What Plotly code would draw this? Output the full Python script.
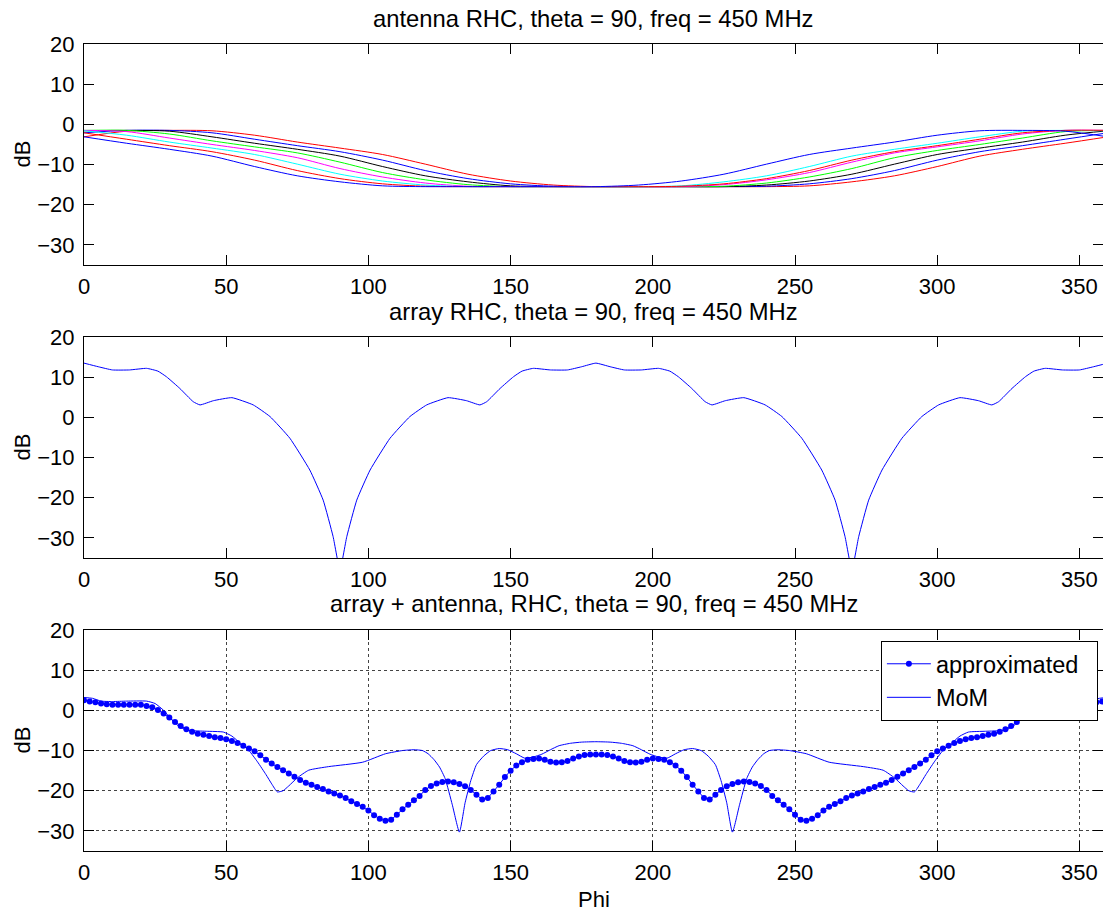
import plotly.graph_objects as go

# top panel: antenna patterns, phi sampled every 15 deg
phi_ant = list(range(0, 361, 15))
ant_red1 = [-3.1, -1.7, -1.5, -1.6, -2.7, -4.4, -5.9, -7.5, -9.9, -12.4, -14.1, -15.1, -15.5,
            -15.5, -15.5, -15.5, -15.5, -15.3, -14.3, -12.8, -10.5, -7.9, -6.2, -4.7, -3.1]
ant_blue1 = [-2.1, -1.5, -1.5, -2.1, -3.7, -5.3, -6.8, -8.9, -11.5, -13.5, -14.8, -15.4, -15.5,
             -15.5, -15.5, -15.5, -15.4, -14.8, -13.5, -11.5, -8.9, -6.8, -5.3, -3.7, -2.1]
ant_black = [-1.6, -1.5, -1.7, -3.1, -4.7, -6.2, -7.9, -10.5, -12.8, -14.3, -15.3, -15.5, -15.5,
             -15.5, -15.5, -15.5, -15.1, -14.1, -12.4, -9.9, -7.5, -5.9, -4.4, -2.7, -1.6]
ant_green = [-1.5, -1.5, -2.4, -4.1, -5.6, -7.1, -9.4, -12.0, -13.8, -15.0, -15.5, -15.5, -15.5,
             -15.5, -15.5, -15.4, -14.6, -13.1, -11.0, -8.3, -6.5, -5.0, -3.4, -1.8, -1.5]
ant_magenta = [-1.5, -1.8, -3.4, -5.0, -6.5, -8.3, -11.0, -13.1, -14.6, -15.4, -15.5, -15.5, -15.5,
               -15.5, -15.5, -15.0, -13.8, -12.0, -9.4, -7.1, -5.6, -4.1, -2.4, -1.5, -1.5]
ant_cyan = [-1.6, -2.7, -4.4, -5.9, -7.5, -9.9, -12.4, -14.1, -15.1, -15.5, -15.5, -15.5, -15.5,
            -15.5, -15.3, -14.3, -12.8, -10.5, -7.9, -6.2, -4.7, -3.1, -1.7, -1.5, -1.6]
ant_red2 = [-2.1, -3.7, -5.3, -6.8, -8.9, -11.5, -13.5, -14.8, -15.4, -15.5, -15.5, -15.5, -15.5,
            -15.5, -15.4, -14.8, -13.5, -11.5, -8.9, -6.8, -5.3, -3.7, -2.1, -1.5, -1.5]
ant_blue2 = [-3.1, -4.7, -6.2, -7.9, -10.5, -12.8, -14.3, -15.3, -15.5, -15.5, -15.5, -15.5, -15.5,
             -15.1, -14.1, -12.4, -9.9, -7.5, -5.9, -4.4, -2.7, -1.6, -1.5, -1.7, -3.1]

# middle panel: array factor
phi_arr = [0, 5, 10, 16, 22, 26, 29, 33.7, 38.4, 40.8, 45.5, 52, 59.5, 65.4, 72.4, 79.4, 84.1, 87.6,
           90, 92.4, 95.9, 100.6, 107.6, 114.6, 120.5, 128, 134.5, 139.2, 141.6, 146.3, 151, 154, 158,
           164, 170, 175, 180, 185, 190, 196, 202, 206, 209, 213.7, 218.4, 220.8, 225.5, 232, 239.5,
           245.4, 252.4, 259.4, 264.1, 267.6, 270, 272.4, 275.9, 280.6, 287.6, 294.6, 300.5, 308,
           314.5, 319.2, 321.6, 326.3, 331, 334, 338, 344, 350, 355, 360]
arr_db = [13.5, 12.6, 11.8, 11.8, 12.2, 11.5, 10.1, 7.2, 3.9, 3.1, 4.15, 4.9, 3.1, 0.2, -5.2, -13.1,
          -20.6, -29.7, -38, -29.7, -20.6, -13.1, -5.2, 0.2, 3.1, 4.9, 4.15, 3.1, 3.9, 7.2, 10.1, 11.5,
          12.2, 11.8, 11.8, 12.6, 13.5, 12.6, 11.8, 11.8, 12.2, 11.5, 10.1, 7.2, 3.9, 3.1, 4.15, 4.9,
          3.1, 0.2, -5.2, -13.1, -20.6, -29.7, -38, -29.7, -20.6, -13.1, -5.2, 0.2, 3.1, 4.9, 4.15,
          3.1, 3.9, 7.2, 10.1, 11.5, 12.2, 11.8, 11.8, 12.6, 13.5]

# bottom panel: array + antenna
phi_approx = list(range(0, 361, 2))
approx_db = [2.5, 2.2, 2.0, 1.7, 1.5, 1.4, 1.4, 1.4, 1.4, 1.4, 1.4,
             1.1, 0.8, 0.1, -0.8, -1.8, -2.9, -3.9, -4.7, -5.3, -5.8,
             -6.1, -6.4, -6.7, -6.9, -7.2, -7.6, -8.1, -8.8, -9.5, -10.2,
             -11.2, -12.3, -13.2, -14.1, -14.9, -15.7, -16.5, -17.3, -18.0, -18.5,
             -19.1, -19.6, -20.2, -20.7, -21.2, -21.8, -22.6, -23.3, -24.0, -24.9,
             -26.1, -27.0, -27.5, -27.2, -26.0, -24.6, -23.5, -22.4, -21.3, -19.8,
             -18.8, -18.2, -17.8, -17.7, -17.9, -18.3, -18.9, -19.8, -21.0, -22.2,
             -21.8, -20.2, -18.5, -16.6, -15.0, -13.7, -12.9, -12.3, -12.1, -12.0,
             -12.3, -12.8, -13.0, -12.9, -12.6, -12.0, -11.5, -11.1, -11.0, -11.0,
             -11.0, -11.1, -11.5, -12.0, -12.6, -12.9, -13.0, -12.8, -12.3,
             -12.0, -12.1, -12.3, -12.9, -13.7, -15.0, -16.6, -18.5, -20.2, -21.8,
             -22.2, -21.0, -19.8, -18.9, -18.3, -17.9, -17.7, -17.8, -18.2, -18.8,
             -19.8, -21.3, -22.4, -23.5, -24.6, -26.0, -27.2, -27.5, -27.0, -26.1,
             -24.9, -24.0, -23.3, -22.6, -21.8, -21.2, -20.7, -20.2, -19.6, -19.1,
             -18.5, -18.0, -17.3, -16.5, -15.7, -14.9, -14.1, -13.2, -12.3, -11.2,
             -10.2, -9.5, -8.8, -8.1, -7.6, -7.2, -6.9, -6.7, -6.4, -6.1,
             -5.8, -5.3, -4.7, -3.9, -2.9, -1.8, -0.8, 0.1, 0.8, 1.1,
             1.4, 1.4, 1.4, 1.4, 1.4, 1.4, 1.5, 1.7, 2.0, 2.2, 2.5]

phi_mom = [0, 3, 6, 10, 15, 22, 25, 28, 31, 34, 37, 43, 49, 52, 55, 58, 61, 64, 66, 68,
           70, 72, 75, 79, 86, 98, 106, 112, 116, 119, 121, 123, 125, 127, 129.5, 132, 134, 136, 138, 140.5,
           143, 146, 149, 152, 155, 158, 161, 164, 167, 171, 175, 180,
           185, 189, 193, 196, 199, 202, 205, 208, 211, 214, 217, 219.5, 222, 224, 226, 228, 230.5,
           233, 235, 237, 239, 241, 244, 248, 254, 262, 274, 281, 285, 288, 290, 292, 294, 296, 299,
           302, 305, 308, 311, 317, 323, 326, 329, 332, 335, 338, 345, 350, 354, 357, 360]
mom_db = [3.2, 3.0, 2.3, 2.2, 2.3, 2.3, 1.7, 0.0, -2.5, -4.3, -5.0, -5.2, -5.4, -6.4, -8.2, -10.0, -12.8,
          -16.0, -18.3, -20.3, -20.0, -18.8, -16.8, -14.9, -14.0, -12.9, -10.8, -10.0, -9.8, -10.0, -10.8,
          -12.2, -14.1, -17.0, -23.5, -30.3, -23.0, -17.5, -13.5, -11.4, -10.0, -9.5, -9.8, -10.8, -11.9,
          -11.6, -10.9, -9.8, -8.8, -8.2, -7.9, -7.8,
          -7.9, -8.2, -8.8, -9.8, -10.9, -11.6, -11.9, -10.8, -9.8, -9.5, -10.0, -11.4, -13.5, -17.5,
          -23.0, -30.3, -23.5, -17.0, -14.1, -12.2, -10.8, -10.0, -9.8, -10.0, -10.8, -12.9, -14.0, -14.9,
          -16.8, -18.8, -20.0, -20.3, -18.3, -16.0, -12.8, -10.0, -8.2, -6.4, -5.4, -5.2, -5.0, -4.3,
          -2.5, 0.0, 1.7, 2.3, 2.3, 2.2, 2.3, 3.0, 3.2]

titles = ["antenna RHC, theta = 90, freq = 450 MHz",
          "array RHC, theta = 90, freq = 450 MHz",
          "array + antenna, RHC, theta = 90, freq = 450 MHz"]
x_ticks = list(range(0, 351, 50))
y_ticks = [-30, -20, -10, 0, 10, 20]

FONT = "Liberation Sans, Arial, sans-serif"
W, H = 1103, 914

fig = go.Figure()

ant_lines = [(ant_red1, "red"), (ant_blue1, "blue"), (ant_black, "black"), (ant_green, "#00ff00"),
             (ant_magenta, "magenta"), (ant_cyan, "cyan"), (ant_red2, "red"), (ant_blue2, "blue")]
for vals, col in ant_lines:
    fig.add_trace(go.Scatter(x=phi_ant, y=vals, mode="lines", showlegend=False,
                             line=dict(color=col, width=1, shape="spline", smoothing=0.8),
                             xaxis="x", yaxis="y"))

fig.add_trace(go.Scatter(x=phi_arr, y=arr_db, mode="lines", showlegend=False,
                         line=dict(color="blue", width=1, shape="spline", smoothing=0.4),
                         xaxis="x2", yaxis="y2"))

# trailing nbsp widen the legend box a bit, like the matlab one
fig.add_trace(go.Scatter(x=phi_approx, y=approx_db, mode="lines+markers",
                         name="approximated\u00a0\u00a0",
                         line=dict(color="blue", width=1), marker=dict(color="blue", size=6),
                         xaxis="x3", yaxis="y3"))
fig.add_trace(go.Scatter(x=phi_mom, y=mom_db, mode="lines", name="MoM",
                         line=dict(color="blue", width=1, shape="spline", smoothing=0.5),
                         xaxis="x3", yaxis="y3"))

# plot area pixel boxes (top, bottom) for the three panels
boxes = [(44, 265), (337, 558), (630, 851)]
title_y = [18, 311, 603]

def xax(anchor, grid):
    return dict(domain=[0, 1], range=[0, 358.3], anchor=anchor, tickvals=x_ticks,
                ticks="inside", ticklen=10, tickcolor="black", showline=True, linecolor="black",
                linewidth=1, mirror="ticks", zeroline=False, showgrid=grid,
                gridcolor="#444", griddash="dot", gridwidth=1, automargin=False,
                tickfont=dict(size=22, color="black"), ticklabelstandoff=2)

def yax(anchor, i, grid):
    top, bot = boxes[i]
    return dict(domain=[(H - bot) / H, (H - top) / H], range=[-35, 20], anchor=anchor,
                tickvals=y_ticks, ticks="inside", ticklen=10, tickcolor="black", showline=True,
                linecolor="black", linewidth=1, mirror="ticks", zeroline=False, showgrid=grid,
                gridcolor="#444", griddash="dot", gridwidth=1, automargin=False,
                tickfont=dict(size=22, color="black"), ticklabelstandoff=4)

annotations = []
for i, t in enumerate(titles):
    annotations.append(dict(text=t, xref="paper", yref="paper", x=0.5, y=(H - title_y[i]) / H,
                            xanchor="center", yanchor="middle", showarrow=False,
                            font=dict(size=23.8, color="black")))
    top, bot = boxes[i]
    annotations.append(dict(text="dB", xref="paper", yref="paper", x=0, xshift=-62,
                            y=(H - (top + bot) / 2) / H, textangle=-90, xanchor="center",
                            yanchor="middle", showarrow=False, font=dict(size=22, color="black")))
annotations.append(dict(text="Phi", xref="paper", yref="paper", x=0.5, y=(H - 899) / H,
                        xanchor="center", yanchor="middle", showarrow=False,
                        font=dict(size=22, color="black")))

fig.update_layout(
    width=W, height=H,
    margin=dict(l=84, r=0, t=0, b=0, autoexpand=False),
    paper_bgcolor="white", plot_bgcolor="white",
    font=dict(family=FONT, size=22, color="black"),
    xaxis=xax("y", False), yaxis=yax("x", 0, False),
    xaxis2=xax("y2", False), yaxis2=yax("x2", 1, False),
    xaxis3=xax("y3", True), yaxis3=yax("x3", 2, True),
    annotations=annotations,
    legend=dict(x=0.995, xanchor="right", y=(H - 641) / H, yanchor="top",
                bgcolor="white", bordercolor="black", borderwidth=1,
                font=dict(size=23.5, color="black"), itemwidth=44, tracegroupgap=0),
    showlegend=True,
)

# drop the default 8px body margin so the figure fills the window exactly
fig.write_html("out.html", config={"displayModeBar": False},
               post_script="document.body.style.margin='0';document.body.style.overflow='hidden';")
